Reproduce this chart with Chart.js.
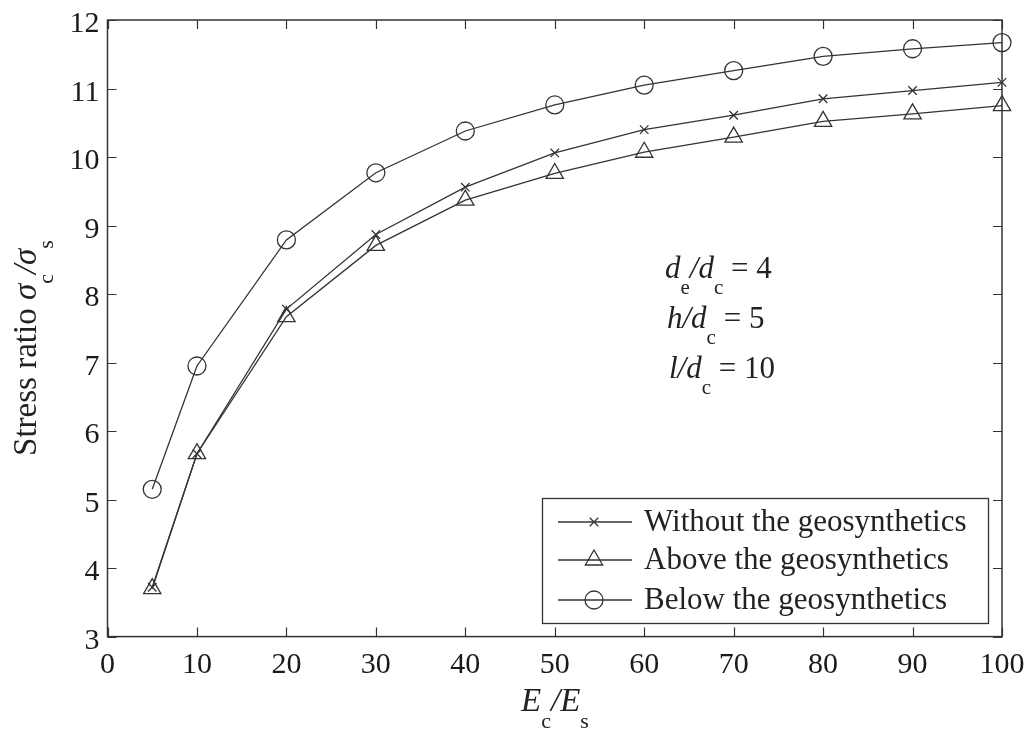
<!DOCTYPE html>
<html>
<head>
<meta charset="utf-8">
<script src="https://cdn.jsdelivr.net/npm/chart.js@4.4.0/dist/chart.umd.min.js"></script>
<style>
  html, body { margin: 0; padding: 0; background: #fff; }
  #wrap { width: 1032px; height: 731px; position: relative; }
</style>
</head>
<body>
<div id="wrap"><canvas id="stressChart"></canvas></div>
<script>
(function() {
    "use strict";

    // modulus ratio Ec/Es
    var ecEs = [5, 10, 20, 30, 40, 50, 60, 70, 80, 90, 100];
    // stress ratio sigma_c / sigma_s
    var withoutGeo = [3.72, 5.67, 7.78, 8.87, 9.56, 10.06, 10.40, 10.61, 10.85, 10.97, 11.09];
    var aboveGeo   = [3.70, 5.67, 7.67, 8.71, 9.37, 9.76, 10.07, 10.29, 10.52, 10.63, 10.75];
    var belowGeo   = [5.15, 6.95, 8.79, 9.77, 10.38, 10.76, 11.05, 11.26, 11.47, 11.58, 11.67];
    var seriesNames = ['Without the geosynthetics', 'Above the geosynthetics', 'Below the geosynthetics'];
    var xTicks = [0, 10, 20, 30, 40, 50, 60, 70, 80, 90, 100];
    var yTicks = [3, 4, 5, 6, 7, 8, 9, 10, 11, 12];

    var ink = '#333';
    var serif = '"Liberation Serif", "Times New Roman", serif';

    function pts(ys) {
        return ecEs.map(function(x, i) { return { x: x, y: ys[i] }; });
    }

    function series(label, ys, style, r) {
        return {
            label: label,
            data: pts(ys),
            borderColor: ink,
            borderWidth: 1.3,
            backgroundColor: 'rgba(0,0,0,0)',
            pointStyle: style,
            pointRadius: r,
            pointBorderColor: ink,
            pointBorderWidth: 1.3,
            pointBackgroundColor: 'rgba(0,0,0,0)',
            fill: false,
            tension: 0,
            clip: false
        };
    }

    // draws a run of [text, kind] pieces; kind: 'i' italic, 'n' normal, 's' subscript
    function richText(ctx, parts, x, y, size) {
        var cx = x;
        parts.forEach(function(p) {
            var t = p[0], k = p[1];
            ctx.font = (k === 'i' ? 'italic ' : '') + (k === 's' ? Math.round(size * 0.68) : size) + 'px ' + serif;
            ctx.fillText(t, cx, k === 's' ? y + size * 0.5 : y);
            cx += ctx.measureText(t).width;
        });
        return cx - x;
    }

    function richWidth(ctx, parts, size) {
        var w = 0;
        parts.forEach(function(p) {
            ctx.font = (p[1] === 'i' ? 'italic ' : '') + (p[1] === 's' ? Math.round(size * 0.68) : size) + 'px ' + serif;
            w += ctx.measureText(p[0]).width;
        });
        return w;
    }

    var decorations = {
        id: 'decorations',
        afterDraw: function(chart) {
            var ctx = chart.ctx, a = chart.chartArea;
            var xs = chart.scales.x, ys = chart.scales.y;
            ctx.save();
            ctx.strokeStyle = ink;
            ctx.lineWidth = 1.5;
            ctx.strokeRect(a.left, a.top, a.right - a.left, a.bottom - a.top);
            // inward ticks on all sides
            ctx.beginPath();
            var tl = 9;
            xTicks.forEach(function(v) {
                var px = Math.round(xs.getPixelForValue(v)) + 0.5;
                ctx.moveTo(px, a.bottom); ctx.lineTo(px, a.bottom - tl);
                ctx.moveTo(px, a.top); ctx.lineTo(px, a.top + tl);
            });
            yTicks.forEach(function(v) {
                var py = Math.round(ys.getPixelForValue(v)) + 0.5;
                ctx.moveTo(a.left, py); ctx.lineTo(a.left + tl, py);
                ctx.moveTo(a.right, py); ctx.lineTo(a.right - tl, py);
            });
            ctx.lineWidth = 1.2;
            ctx.stroke();

            // tick labels
            ctx.fillStyle = '#1a1a1a';
            ctx.font = '30px ' + serif;
            ctx.textBaseline = 'alphabetic';
            ctx.textAlign = 'center';
            xTicks.forEach(function(v) {
                ctx.fillText(String(v), xs.getPixelForValue(v), a.bottom + 36);
            });
            ctx.textAlign = 'right';
            yTicks.forEach(function(v) {
                ctx.fillText(String(v), a.left - 8, ys.getPixelForValue(v) + 12);
            });

            ctx.textAlign = 'left';
            ctx.fillStyle = '#222';
            var fs = 31;
            // parameters note
            richText(ctx, [['d', 'i'], ['e', 's'], ['/', 'i'], ['d', 'i'], ['c', 's'], [' = 4', 'n']], 665, 278, fs);
            richText(ctx, [['h', 'i'], ['/', 'i'], ['d', 'i'], ['c', 's'], [' = 5', 'n']], 667, 328, fs);
            richText(ctx, [['l', 'i'], ['/', 'i'], ['d', 'i'], ['c', 's'], [' = 10', 'n']], 669, 378, fs);

            // x axis title
            var xt = [['E', 'i'], ['c', 's'], ['/', 'i'], ['E', 'i'], ['s', 's']];
            var xw = richWidth(ctx, xt, 33);
            richText(ctx, xt, 555 - xw / 2, 711, 33);

            // y axis title
            var yt = [['Stress ratio ', 'n'], ['\u03c3', 'i'], ['c', 's'], ['/', 'i'], ['\u03c3', 'i'], ['s', 's']];
            var yw = richWidth(ctx, yt, 33);
            ctx.save();
            ctx.translate(36, 348);
            ctx.rotate(-Math.PI / 2);
            richText(ctx, yt, -yw / 2, 0, 33);
            ctx.restore();

            // legend box
            var lx = 542, ly = 498, lw = 446, lh = 125;
            ctx.fillStyle = '#fff';
            ctx.fillRect(lx, ly, lw, lh);
            ctx.strokeStyle = ink;
            ctx.lineWidth = 1.3;
            ctx.strokeRect(lx + 0.5, ly + 0.5, lw, lh);
            var rows = [522, 560, 600];
            chart.data.datasets.forEach(function(ds, i) {
                var ry = rows[i];
                ctx.beginPath();
                ctx.strokeStyle = ink;
                ctx.lineWidth = 1.3;
                ctx.moveTo(558, ry); ctx.lineTo(632, ry);
                ctx.stroke();
                ctx.fillStyle = 'rgba(0,0,0,0)';
                Chart.helpers.drawPoint(ctx, {
                    pointStyle: ds.pointStyle, radius: ds.pointRadius, rotation: 0, borderWidth: 1.3
                }, 594, ry);
                ctx.fillStyle = '#222';
                ctx.font = fs + 'px ' + serif;
                ctx.textBaseline = 'middle';
                ctx.fillText(seriesNames[i], 644, ry + 1);
            });
            ctx.restore();
        }
    };

    var ctx = document.getElementById('stressChart').getContext('2d');
    new Chart(ctx, {
        type: 'line',
        data: {
            datasets: [
                series(seriesNames[0], withoutGeo, 'crossRot', 6),
                series(seriesNames[1], aboveGeo, 'triangle', 10),
                series(seriesNames[2], belowGeo, 'circle', 9)
            ]
        },
        options: {
            responsive: true,
            maintainAspectRatio: false,
            animation: false,
            layout: { padding: { top: 20, right: 30, left: 0, bottom: 0 } },
            plugins: { legend: { display: false }, tooltip: { enabled: false } },
            scales: {
                x: {
                    type: 'linear', min: 0, max: 100,
                    ticks: { display: false, stepSize: 10 },
                    grid: { display: false },
                    border: { display: false },
                    afterFit: function(s) { s.height = 731 - 636.6; }
                },
                y: {
                    min: 3, max: 12,
                    ticks: { display: false, stepSize: 1 },
                    grid: { display: false },
                    border: { display: false },
                    afterFit: function(s) { s.width = 107.5; }
                }
            }
        },
        plugins: [decorations]
    });
})();
</script>
</body>
</html>
